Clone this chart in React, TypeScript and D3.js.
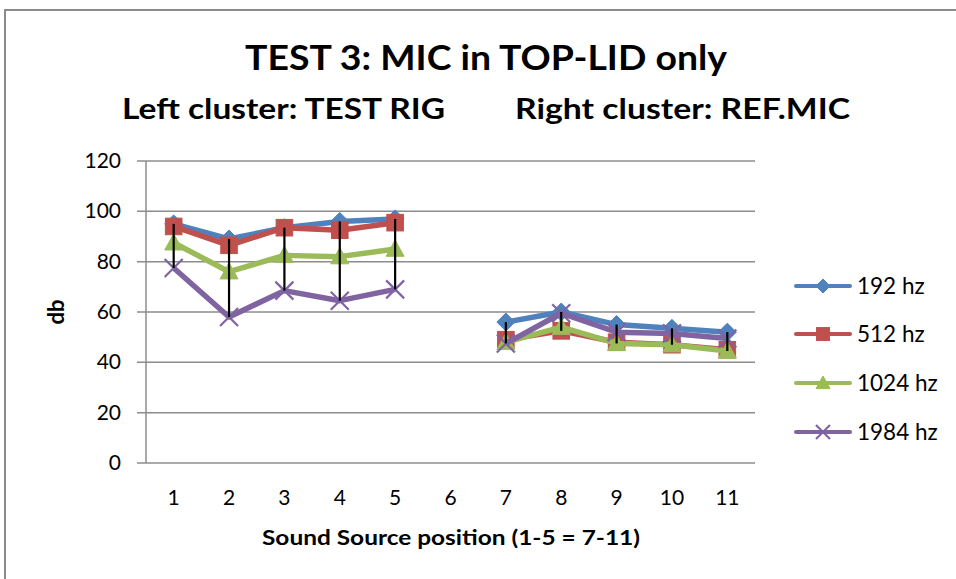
import React from 'react';
import * as d3 from 'd3';

const categories = ['1', '2', '3', '4', '5', '6', '7', '8', '9', '10', '11'];
const yTicks = [0, 20, 40, 60, 80, 100, 120];
const seriesNames = ['192 hz', '512 hz', '1024 hz', '1984 hz'];
const hz192: (number | null)[] = [95, 89, 93.5, 96, 97, null, 56, 60, 55, 53.5, 52];
const hz512: (number | null)[] = [94, 86.5, 93.5, 92.5, 95.5, null, 49, 52.5, 48, 47, 45];
const hz1024: (number | null)[] = [87.5, 76, 82.5, 82, 85, null, 48, 54, 47.5, 47, 44.5];
const hz1984: (number | null)[] = [77.5, 58, 68.5, 64.5, 69, null, 47.5, 59.5, 52, 51.5, 49.5];
const seriesValues = [hz192, hz512, hz1024, hz1984];
const colors = ['#4F81BD', '#C0504D', '#9BBB59', '#8064A2'];
const markerKinds = ['diamond', 'square', 'triangle', 'x'];

const FONT = 'Lato, "Open Sans", sans-serif';

function Marker({ kind, cx, cy, s, color }: { kind: string; cx: number; cy: number; s: number; color: string }) {
  const h = s / 2;
  if (kind === 'diamond') {
    return <polygon points={`${cx},${cy - h} ${cx + h},${cy} ${cx},${cy + h} ${cx - h},${cy}`} fill={color} stroke={color} strokeWidth={1} />;
  }
  if (kind === 'square') {
    const q = h * 0.92;
    return <rect x={cx - q} y={cy - q} width={2 * q} height={2 * q} fill={color} stroke={color} strokeWidth={1} />;
  }
  if (kind === 'triangle') {
    return <polygon points={`${cx},${cy - h} ${cx + h},${cy + h * 0.8} ${cx - h},${cy + h * 0.8}`} fill={color} stroke={color} strokeWidth={1} />;
  }
  return (
    <g stroke={color} strokeWidth={2.2}>
      <line x1={cx - h} y1={cy - h} x2={cx + h} y2={cy + h} />
      <line x1={cx - h} y1={cy + h} x2={cx + h} y2={cy - h} />
    </g>
  );
}

export default function App() {
  const x = d3.scaleBand<string>().domain(categories).range([146, 755]);
  const y = d3.scaleLinear().domain([0, 120]).range([463, 161]);
  const bw = x.bandwidth();
  const cx = (i: number) => (x(categories[i]) as number) + bw / 2;
  const line = d3
    .line<number | null>()
    .defined((d) => d != null)
    .x((_, i) => cx(i))
    .y((d) => y(d as number));

  const legendY = [286, 334, 383, 432];

  return (
    <svg width={956} height={579} style={{ position: 'absolute', left: 0, top: 0, background: '#fff' }} fontFamily={FONT}>
      <rect x={0} y={0} width={956} height={579} fill="#fff" />
      <rect x={5} y={10} width={1000} height={600} fill="none" stroke="#8a8a8a" strokeWidth={2} />

      <text x={245} y={70} fontSize={34} fontWeight="bold" textLength={482} lengthAdjust="spacingAndGlyphs">TEST 3: MIC in TOP-LID only</text>
      <text x={122} y={119} fontSize={29} fontWeight="bold" textLength={323} lengthAdjust="spacingAndGlyphs">Left cluster: TEST RIG</text>
      <text x={515} y={119} fontSize={29} fontWeight="bold" textLength={335} lengthAdjust="spacingAndGlyphs">Right cluster: REF.MIC</text>

      {yTicks.map((t) => (
        <g key={t}>
          <line x1={137} x2={755} y1={y(t)} y2={y(t)} stroke="#8c8c8c" strokeWidth={1.5} />
          <text x={121} y={y(t) + 7} textAnchor="end" fontSize={21} fill="#000">{t}</text>
        </g>
      ))}
      <line x1={146} x2={146} y1={161} y2={463} stroke="#8c8c8c" strokeWidth={1.5} />

      {categories.map((c, i) => (
        <text key={c} x={cx(i)} y={505} textAnchor="middle" fontSize={21}>{c}</text>
      ))}

      <text x={262} y={545} fontSize={21} fontWeight="bold" textLength={378} lengthAdjust="spacingAndGlyphs">Sound Source position (1-5 = 7-11)</text>
      <text transform="translate(64,312) rotate(-90)" textAnchor="middle" fontSize={22} fontWeight="bold">db</text>

      {seriesValues.map((vals, si) => (
        <g key={si}>
          <path d={line(vals) || ''} fill="none" stroke={colors[si]} strokeWidth={5.5} strokeLinejoin="round" />
          {vals.map((v, i) =>
            v == null ? null : <Marker key={i} kind={markerKinds[si]} cx={cx(i)} cy={y(v)} s={18} color={colors[si]} />
          )}
        </g>
      ))}

      {categories.map((c, i) => {
        const vs = seriesValues.map((s) => s[i]).filter((v) => v != null) as number[];
        if (!vs.length) return null;
        return <line key={c} x1={cx(i)} x2={cx(i)} y1={y(d3.max(vs) as number)} y2={y(d3.min(vs) as number)} stroke="#000" strokeWidth={2.2} />;
      })}

      {seriesNames.map((n, si) => (
        <g key={n}>
          <line x1={796} x2={850} y1={legendY[si]} y2={legendY[si]} stroke={colors[si]} strokeWidth={4} strokeLinecap="round" />
          <Marker kind={markerKinds[si]} cx={823} cy={legendY[si]} s={14} color={colors[si]} />
          <text x={857} y={legendY[si] + 8} fontSize={22.5}>{n}</text>
        </g>
      ))}
    </svg>
  );
}
